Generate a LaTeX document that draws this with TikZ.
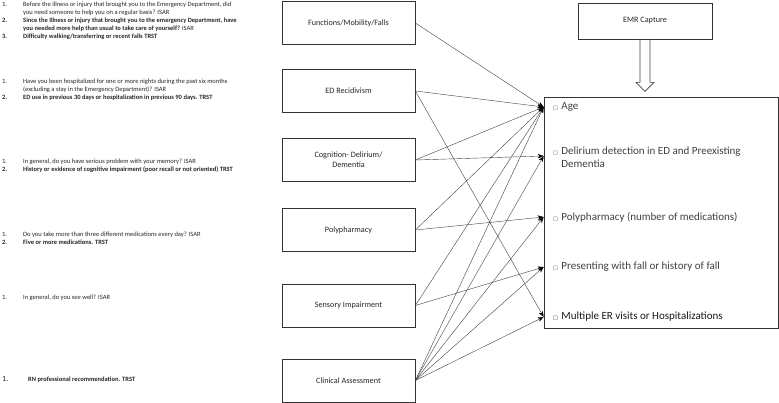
\documentclass[tikz,border=0pt]{standalone}
\usepackage{fontspec}
\setmainfont{Carlito}
\newfontfamily\symfont{DejaVu Sans}
\usetikzlibrary{arrows, arrows.meta, calc}

\newcommand{\qnum}[1]{\makebox[21pt][l]{#1}}
\newcommand{\qgap}{\hspace*{21pt}}
\newcommand{\chk}{{\symfont\fontsize{5}{5}\selectfont □}\hspace{3.5pt}}

\begin{document}
\begin{tikzpicture}[>={Stealth[length=6pt,width=4.5pt,color=black]}, x=1pt, y=-1pt]
  \tikzset{
    factor/.style={draw=black!80, line width=0.7pt, minimum width=133pt, minimum height=43pt,
      align=center, font=\fontsize{8.2}{10}\selectfont, text=black!85},
    question/.style={anchor=north west, inner sep=0pt, align=left,
      font=\fontsize{6.5}{8}\selectfont, text=black!85},
    item/.style={anchor=west, inner sep=0pt, align=left, font=\fontsize{11}{13}\selectfont, text=black!75},
    conn/.style={->, draw=black!75, line width=0.4pt}
  }
  \useasboundingbox (0,0) rectangle (779,403);

  % Questions
  \node[question] (q1) at (2,2) {\qnum{1.}Before the illness or injury that brought you to the Emergency Department, did\\
    \qgap you need someone to help you on a regular basis? ISAR\\
    \textbf{\qnum{2.}Since the Illness or injury that brought you to the emergency Department, have}\\
    \qgap\textbf{you needed more help than usual to take care of yourself?} ISAR\\
    \textbf{\qnum{3.}Difficulty walking/transferring or recent falls TRST}};
  \node[question] (q2) at (2,79) {\qnum{1.}Have you been hospitalized for one or more nights during the past six months\\
    \qgap(excluding a stay in the Emergency Department)? ISAR\\
    \textbf{\qnum{2.}ED use in previous 30 days or hospitalization in previous 90 days. TRST}};
  \node[question] (q3) at (2,159) {\qnum{1.}In general, do you have serious problem with your memory? ISAR\\
    \textbf{\qnum{2.}History or evidence of cognitive impairment (poor recall or not oriented) TRST}};
  \node[question] (q4) at (2,232) {\qnum{1.}Do you take more than three different medications every day? ISAR\\
    \textbf{\qnum{2.}Five or more medications. TRST}};
  \node[question] (q5) at (2,295) {\qnum{1.}In general, do you see well? ISAR};
  \node[question] (q6) at (2,376.5) {\makebox[26pt][l]{\fontsize{8}{8}\selectfont 1.}\textbf{RN professional recommendation. TRST}};

  % Factor boxes
  \node[factor] (func) at (348.5,23) {Functions/Mobility/Falls};
  \node[factor] (recid) at (348.5,91) {ED Recidivism};
  \node[factor] (cogn) at (348.5,160) {Cognition- Delirium/\\Dementia};
  \node[factor] (poly) at (348.5,230) {Polypharmacy};
  \node[factor] (sens) at (348.5,305.5) {Sensory Impairment};
  \node[factor] (clin) at (348.5,380.5) {Clinical Assessment};

  % EMR capture and criteria
  \node[factor, minimum width=134pt, minimum height=36pt] (emr) at (645,21) {EMR Capture};
  \node[draw=black!80, line width=0.7pt, minimum width=234pt, minimum height=231pt] (crit) at (661,212.5) {};
  \draw[black!75, line width=0.6pt] ([xshift=-5pt]emr.south) -- ++(0,43) -- ++(-4,0) -- ++(9,9)
    -- ++(9,-9) -- ++(-4,0) -- ++(0,-43);

  \node[item] (age) at (553,107) {\chk Age};
  \node[item, anchor=north west] (delir) at (553,147) {\chk Delirium detection in ED and Preexisting\\
    \phantom{\chk}Dementia};
  \node[item] (polyitem) at (553,217) {\chk Polypharmacy (number of medications)};
  \node[item] (fall) at (553,267) {\chk Presenting with fall or history of fall};
  \node[item, text=black!90] (visits) at (553,317) {\chk Multiple ER visits or Hospitalizations};
  \coordinate (delirin) at ($(crit.west |- delir.north)+(0,9)$);

  % Connectors
  \draw[conn] (func.east) -- (crit.west |- age);
  \draw[conn] (recid.east) -- (crit.west |- age);
  \draw[conn] (recid.east) -- (crit.west |- visits);
  \draw[conn] (cogn.east) -- (crit.west |- age);
  \draw[conn] (cogn.east) -- (delirin);
  \draw[conn] (poly.east) -- (crit.west |- age);
  \draw[conn] (poly.east) -- (crit.west |- polyitem);
  \draw[conn] (sens.east) -- (crit.west |- age);
  \draw[conn] (sens.east) -- (crit.west |- fall);
  \draw[conn] (clin.east) -- (crit.west |- age);
  \draw[conn] (clin.east) -- (delirin);
  \draw[conn] (clin.east) -- (crit.west |- polyitem);
  \draw[conn] (clin.east) -- (crit.west |- fall);
  \draw[conn] (clin.east) -- (crit.west |- visits);
\end{tikzpicture}
\end{document}
